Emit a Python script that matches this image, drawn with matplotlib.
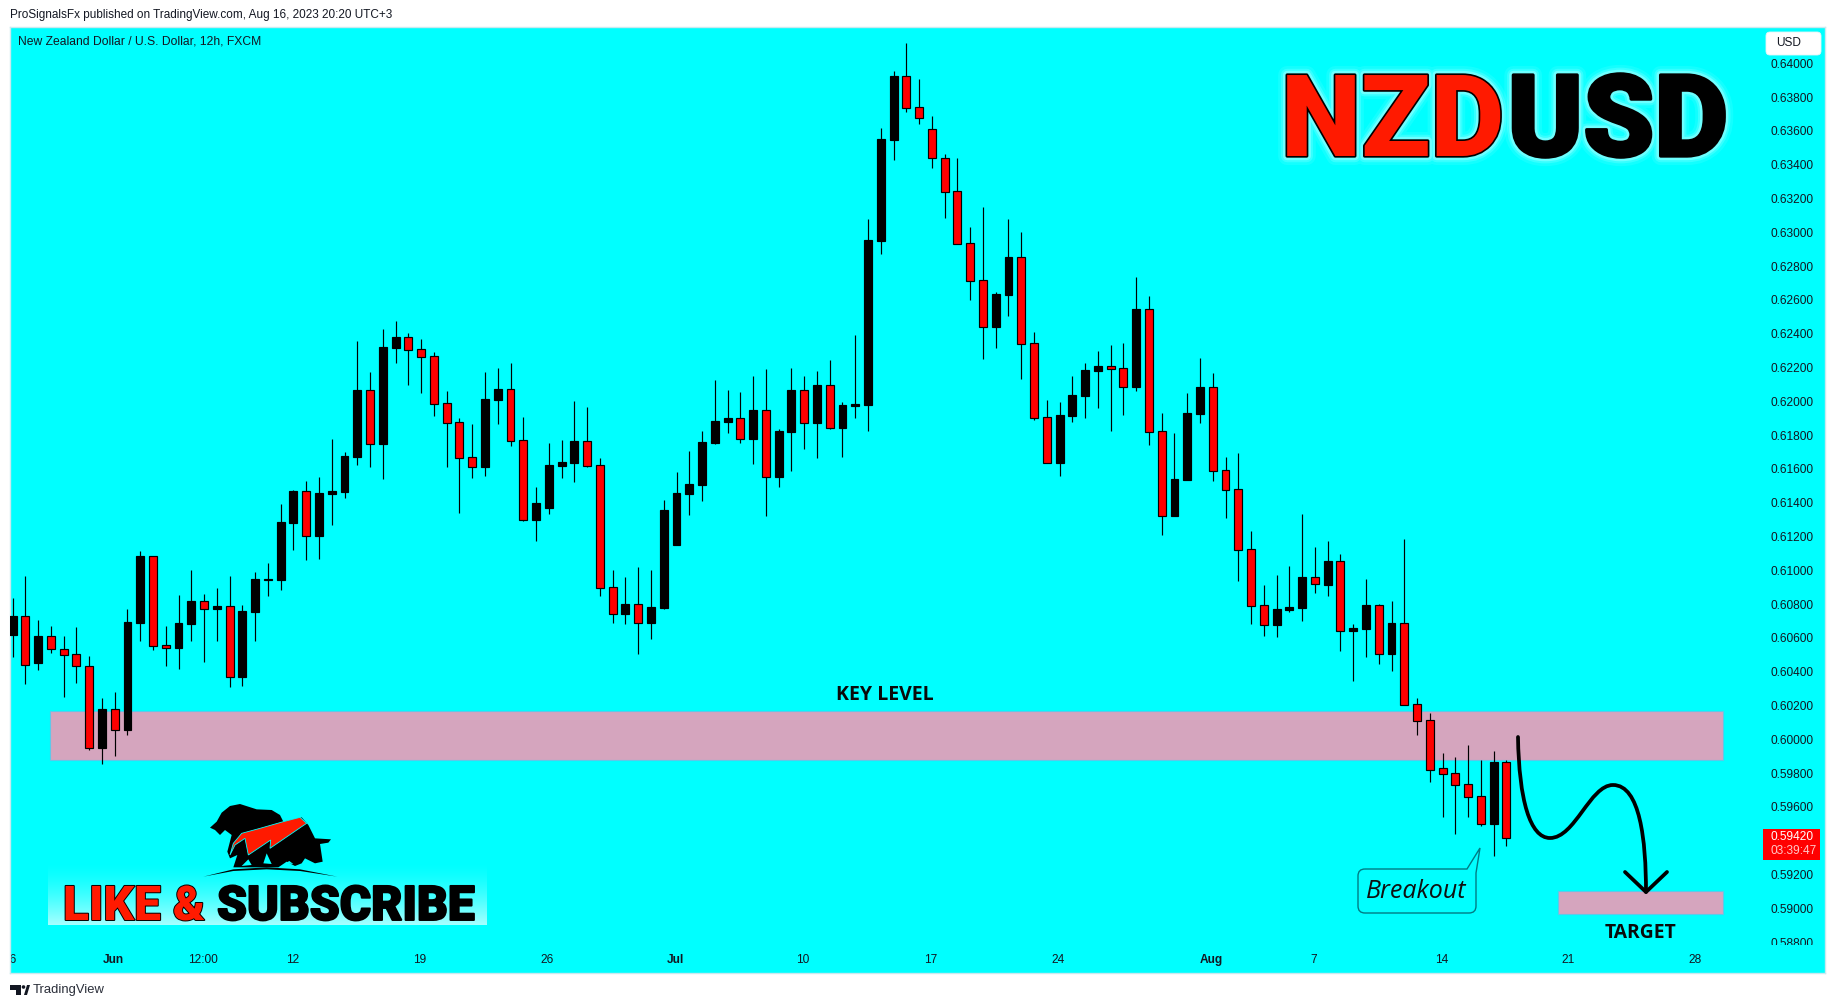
import matplotlib
matplotlib.use("Agg")
import matplotlib.pyplot as plt
import matplotlib.patheffects as pe
import numpy as np
from matplotlib.patches import PathPatch, Polygon, Rectangle, FancyBboxPatch
from matplotlib.path import Path
from matplotlib.transforms import Affine2D, Bbox

# candle values (12h bars, NZDUSD)
opens = [0.60619, 0.60728, 0.60453, 0.60609, 0.60532, 0.60503, 0.60432, 0.59951, 0.60177, 0.60057,
         0.60690, 0.61083, 0.60556, 0.60542, 0.60684, 0.60816, 0.60773, 0.60787, 0.60371, 0.60755,
         0.60945, 0.60945, 0.61282, 0.61467, 0.61205, 0.61453, 0.61465, 0.61672, 0.62065, 0.61749,
         0.62317, 0.62378, 0.62307, 0.62266, 0.61988, 0.61875, 0.61668, 0.61613, 0.62009, 0.62071,
         0.61769, 0.61299, 0.61370, 0.61619, 0.61637, 0.61763, 0.61621, 0.60899, 0.60743, 0.60799,
         0.60690, 0.60779, 0.61152, 0.61453, 0.61507, 0.61755, 0.61879, 0.61899, 0.61779, 0.61946,
         0.61554, 0.61820, 0.62065, 0.61873, 0.62094, 0.61844, 0.61974, 0.61980, 0.62951, 0.63548,
         0.63923, 0.63740, 0.63609, 0.63438, 0.63243, 0.62935, 0.62716, 0.62442, 0.62629, 0.62852,
         0.62343, 0.61906, 0.61637, 0.61915, 0.62034, 0.62182, 0.62207, 0.62195, 0.62087, 0.62544,
         0.61822, 0.61323, 0.61536, 0.61927, 0.62083, 0.61592, 0.61479, 0.61124, 0.60793, 0.60679,
         0.60767, 0.60779, 0.60959, 0.60915, 0.61053, 0.60643, 0.60655, 0.60793, 0.60507, 0.60687,
         0.60207, 0.60112, 0.59828, 0.59799, 0.59734, 0.59663, 0.59501, 0.59864]
highs = [0.60836, 0.60966, 0.60706, 0.60670, 0.60611, 0.60664, 0.60493, 0.60244, 0.60280, 0.60771,
         0.61114, 0.61083, 0.60670, 0.60854, 0.61002, 0.60860, 0.60895, 0.60966, 0.60795, 0.60990,
         0.61043, 0.61392, 0.61475, 0.61528, 0.61552, 0.61777, 0.61700, 0.62356, 0.62173, 0.62427,
         0.62475, 0.62404, 0.62368, 0.62291, 0.62061, 0.61901, 0.61865, 0.62173, 0.62197, 0.62226,
         0.61907, 0.61493, 0.61753, 0.61771, 0.62001, 0.61966, 0.61664, 0.61002, 0.60960, 0.61019,
         0.61002, 0.61416, 0.61581, 0.61706, 0.61824, 0.62126, 0.62067, 0.62055, 0.62149, 0.62191,
         0.61836, 0.62197, 0.62149, 0.62179, 0.62244, 0.61996, 0.62392, 0.63079, 0.63617, 0.63954,
         0.64120, 0.63907, 0.63688, 0.63463, 0.63440, 0.63032, 0.63150, 0.62647, 0.63079, 0.63002,
         0.62410, 0.62008, 0.61996, 0.62150, 0.62227, 0.62298, 0.62333, 0.62345, 0.62736, 0.62623,
         0.61931, 0.61813, 0.62049, 0.62256, 0.62167, 0.61671, 0.61694, 0.61233, 0.60913, 0.60972,
         0.61026, 0.61333, 0.61138, 0.61174, 0.61097, 0.60683, 0.60949, 0.60801, 0.60819, 0.61185,
         0.60243, 0.60156, 0.59919, 0.59895, 0.59966, 0.59878, 0.59931, 0.59878]
lows = [0.60489, 0.60329, 0.60412, 0.60513, 0.60252, 0.60335, 0.59939, 0.59856, 0.59903, 0.60028,
        0.60584, 0.60530, 0.60436, 0.60418, 0.60584, 0.60459, 0.60584, 0.60311, 0.60317, 0.60584,
        0.60850, 0.60885, 0.61122, 0.61063, 0.61069, 0.61270, 0.61430, 0.61625, 0.61613, 0.61542,
        0.62228, 0.62098, 0.62051, 0.61915, 0.61613, 0.61341, 0.61548, 0.61560, 0.61867, 0.61737,
        0.61294, 0.61175, 0.61335, 0.61548, 0.61524, 0.61613, 0.60850, 0.60690, 0.60684, 0.60507,
        0.60595, 0.60773, 0.61152, 0.61329, 0.61412, 0.61749, 0.61814, 0.61755, 0.61631, 0.61323,
        0.61495, 0.61589, 0.61719, 0.61666, 0.61838, 0.61672, 0.61903, 0.61827, 0.62874, 0.63430,
        0.63714, 0.63643, 0.63383, 0.63087, 0.62933, 0.62602, 0.62253, 0.62318, 0.62507, 0.62134,
        0.61892, 0.61637, 0.61560, 0.61880, 0.61904, 0.61963, 0.61827, 0.61921, 0.62063, 0.61744,
        0.61211, 0.61323, 0.61536, 0.61874, 0.61531, 0.61312, 0.60939, 0.60685, 0.60614, 0.60608,
        0.60756, 0.60702, 0.60868, 0.60850, 0.60525, 0.60347, 0.60489, 0.60448, 0.60407, 0.60205,
        0.60028, 0.59750, 0.59542, 0.59442, 0.59542, 0.59489, 0.59312, 0.59371]
closes = [0.60730, 0.60442, 0.60611, 0.60532, 0.60501, 0.60432, 0.59951, 0.60177, 0.60057, 0.60694,
          0.61085, 0.60554, 0.60542, 0.60688, 0.60818, 0.60773, 0.60789, 0.60371, 0.60759, 0.60948,
          0.60948, 0.61286, 0.61469, 0.61205, 0.61457, 0.61469, 0.61676, 0.62067, 0.61749, 0.62321,
          0.62380, 0.62305, 0.62264, 0.61986, 0.61873, 0.61666, 0.61613, 0.62013, 0.62072, 0.61767,
          0.61299, 0.61398, 0.61623, 0.61641, 0.61765, 0.61619, 0.60897, 0.60743, 0.60801, 0.60690,
          0.60783, 0.61357, 0.61457, 0.61510, 0.61759, 0.61883, 0.61901, 0.61779, 0.61948, 0.61554,
          0.61824, 0.62067, 0.61873, 0.62096, 0.61844, 0.61978, 0.61984, 0.62955, 0.63552, 0.63925,
          0.63738, 0.63678, 0.63438, 0.63241, 0.62933, 0.62714, 0.62442, 0.62635, 0.62854, 0.62341,
          0.61904, 0.61637, 0.61919, 0.62038, 0.62186, 0.62209, 0.62193, 0.62087, 0.62546, 0.61821,
          0.61323, 0.61540, 0.61931, 0.62085, 0.61590, 0.61477, 0.61122, 0.60791, 0.60679, 0.60771,
          0.60783, 0.60961, 0.60917, 0.61055, 0.60643, 0.60659, 0.60795, 0.60507, 0.60689, 0.60205,
          0.60110, 0.59817, 0.59797, 0.59732, 0.59661, 0.59501, 0.59866, 0.59418]

price_ticks = [0.58800, 0.59000, 0.59200, 0.59400, 0.59600, 0.59800, 0.60000, 0.60200, 0.60400,
               0.60600, 0.60800, 0.61000, 0.61200, 0.61400, 0.61600, 0.61800, 0.62000, 0.62200,
               0.62400, 0.62600, 0.62800, 0.63000, 0.63200, 0.63400, 0.63600, 0.63800, 0.64000]
hidden_price = 0.59400  # sits behind the last price tag
date_ticks = [-0.2, 7.9, 14.9, 21.9, 31.9, 41.9, 51.9, 61.9, 71.9, 81.9, 93.9, 101.9, 111.9, 121.8, 131.8]
date_labels = ["26", "Jun", "12:00", "12", "19", "26", "Jul", "10", "17", "24", "Aug", "7", "14", "21", "28"]

key_level = (0.59876, 0.60168)
target_zone = (0.58964, 0.59100)
zone_bars = (2.95, 134.0)
target_start = 121.0

last_price = "0.59420"
countdown = "03:39:47"

W, H = 1835, 1008
CYAN = "#00ffff"
TEXT = "#131722"
ZONE = "#d5a5be"
ZONE_EDGE = "#5fc8e8"
RED = "#ff0000"
LOGO_RED = "#ff1a00"
FONT = "Liberation Sans"

fig = plt.figure(figsize=(W / 100, H / 100), dpi=100, facecolor="white")
ax = fig.add_axes([10 / W, 1 - 973 / H, (1825 - 10) / W, (973 - 27) / H], facecolor=CYAN)
ax.set_xlim(-0.18, 141.95)
ax.set_ylim(0.58617, 0.64215)

# image pixel coordinates for the drawn-on annotations, y pointing down
px = Affine2D().scale(1 / W, -1 / H).translate(0, 1) + fig.transFigure

for spine in ax.spines.values():
    spine.set_color("#c9e9ef")
    spine.set_linewidth(1)

# zones
ax.add_patch(Rectangle((zone_bars[0], key_level[0]), zone_bars[1] - zone_bars[0], key_level[1] - key_level[0],
                       facecolor=ZONE, edgecolor=ZONE_EDGE, linewidth=0.8, zorder=1))
ax.add_patch(Rectangle((target_start, target_zone[0]), zone_bars[1] - target_start, target_zone[1] - target_zone[0],
                       facecolor=ZONE, edgecolor=ZONE_EDGE, linewidth=0.8, zorder=1))

# candles
idx = np.arange(len(opens))
o = np.array(opens)
c = np.array(closes)
colors = ["black" if c[i] >= o[i] else RED for i in idx]
ax.vlines(idx, lows, highs, color="black", linewidth=0.85, zorder=2)
ax.bar(idx, np.abs(c - o), bottom=np.minimum(o, c), width=0.62, color=colors,
       edgecolor="black", linewidth=0.85, zorder=3)

# axes labels live inside the panel, like on TradingView
ax.yaxis.tick_right()
ax.set_yticks(price_ticks)
ax.set_yticklabels(["%.5f" % p for p in price_ticks], fontfamily=FONT, fontsize=8.6, color=TEXT)
ax.tick_params(axis="y", length=0, pad=-39.1)
ax.set_xticks(date_ticks)
ax.set_xticklabels(date_labels, fontfamily=FONT, fontsize=8.6, color=TEXT)
ax.tick_params(axis="x", length=0, pad=-14)
for lab in ax.get_xticklabels():
    if lab.get_text() in ("Jun", "Jul", "Aug"):
        lab.set_fontweight("bold")
ax.get_xticklabels()[0].set_clip_on(True)
ax.get_xticklabels()[0].set_clip_box(Bbox([[10, 0], [W, H]]))
ax.get_yticklabels()[0].set_clip_on(True)
ax.get_yticklabels()[0].set_clip_box(Bbox([[0, H - 945], [W, H]]))
ax.get_yticklabels()[price_ticks.index(hidden_price)].set_visible(False)

# header and footer
fig.text(10 / W, 1 - 15 / H, "ProSignalsFx published on TradingView.com, Aug 16, 2023 20:20 UTC+3",
         fontfamily=FONT, fontsize=8.46, color=TEXT, va="center")
fig.text(18 / W, 1 - 42 / H, "New Zealand Dollar / U.S. Dollar, 12h, FXCM",
         fontfamily=FONT, fontsize=8.7, color=TEXT, va="center")
fig.text(33 / W, 1 - 990 / H, "TradingView", fontfamily=FONT, fontsize=9.4, color="#2a2e39", va="center")
tv_t = [(10, 985), (21, 985), (21, 995), (16, 995), (16, 990), (10, 990)]
tv_v = [(24, 995), (27, 985), (30, 985), (27, 995)]
for pts in (tv_t, tv_v):
    fig.add_artist(Polygon(pts, closed=True, facecolor="#131722", edgecolor="none", transform=px))
fig.add_artist(plt.Circle((23.5, 987), 1.8, facecolor="#131722", edgecolor="none", transform=px))

# USD box and last price tag
fig.add_artist(FancyBboxPatch((1766, 32), 55, 23, boxstyle="round,pad=0,rounding_size=4",
                              facecolor="white", edgecolor="#e6f4f6", linewidth=0.6, transform=px))
fig.text(1776 / W, 1 - 43.5 / H, "USD", fontfamily=FONT, fontsize=8.6, color=TEXT, va="center")
fig.add_artist(Rectangle((1763, 829), 57, 31, facecolor=RED, edgecolor="none", transform=px))
fig.text(1770.7 / W, 1 - 837.5 / H, last_price, fontfamily=FONT, fontsize=8.6, color="white", va="center")
fig.text(1770.7 / W, 1 - 851.5 / H, countdown, fontfamily=FONT, fontsize=8.6, color="#ffc8c8", va="center")

# zone captions
fig.text(885 / W, 1 - 695.5 / H, "KEY LEVEL", fontfamily="Open Sans", fontweight="bold", fontsize=14,
         color="#0a0a0a", ha="center", va="center")
fig.text(1640 / W, 1 - 933 / H, "TARGET", fontfamily="Open Sans", fontweight="bold", fontsize=13.9,
         color="#0a0a0a", ha="center", va="center")

# drawn projection: dip, bounce, drop to target
curve = Path([(1518, 737), (1519, 800), (1530, 838), (1550, 838),
              (1575, 838), (1590, 785), (1613, 785),
              (1640, 785), (1646, 840), (1646, 892)],
             [Path.MOVETO] + [Path.CURVE4] * 9)
fig.add_artist(PathPatch(curve, facecolor="none", edgecolor="black", linewidth=2.7, capstyle="round", transform=px))
head = Path([(1625, 872), (1646, 892), (1667, 872)], [Path.MOVETO, Path.LINETO, Path.LINETO])
fig.add_artist(PathPatch(head, facecolor="none", edgecolor="black", linewidth=2.7, capstyle="round",
                         joinstyle="round", transform=px))

# Breakout callout
r = 7
box = Path([(1358 + r, 869), (1467, 869), (1480, 848), (1476, 873), (1476, 913 - r), (1476, 913), (1476 - r, 913),
            (1358 + r, 913), (1358, 913), (1358, 913 - r), (1358, 869 + r), (1358, 869), (1358 + r, 869)],
           [Path.MOVETO, Path.LINETO, Path.LINETO, Path.LINETO, Path.LINETO, Path.CURVE3, Path.CURVE3,
            Path.LINETO, Path.CURVE3, Path.CURVE3, Path.LINETO, Path.CURVE3, Path.CURVE3])
fig.add_artist(PathPatch(box, facecolor=CYAN, edgecolor="#007c84", linewidth=1, transform=px))
fig.text(1416 / W, 1 - 892 / H, "Breakout", fontfamily="Open Sans", fontstyle="italic", fontsize=18,
         color="#101010", ha="center", va="center")

# NZDUSD title with a soft white glow
glow = [pe.withStroke(linewidth=w, foreground="white", alpha=a) for w, a in ((13, 0.08), (9, 0.15), (6, 0.28))]
fig.text(1281 / W, 1 - 156 / H, "NZD", fontfamily="Roboto", fontweight=900, fontsize=82, color=LOGO_RED, va="baseline",
         path_effects=glow + [pe.withStroke(linewidth=2.4, foreground="black")])
fig.text(1507.5 / W, 1 - 156 / H, "USD", fontfamily="Roboto", fontweight=900, fontsize=82, color="black", va="baseline",
         path_effects=glow + [pe.withStroke(linewidth=2.4, foreground="black")])

# LIKE & SUBSCRIBE logo
gax = fig.add_axes([48 / W, 1 - 925 / H, (486 - 48) / W, (925 - 863) / H])
ramp = np.linspace(0, 1, 64)[:, None]
rgb = np.dstack([0.65 * ramp ** 1.5, np.ones_like(ramp), np.ones_like(ramp)])
gax.imshow(rgb, aspect="auto", origin="upper")
gax.axis("off")
fig.text(63 / W, 1 - 920 / H, "LIKE &", fontfamily="Roboto", fontweight=900, fontsize=34.5, color=LOGO_RED, va="baseline",
         path_effects=[pe.withStroke(linewidth=1.4, foreground="black")])
fig.text(217 / W, 1 - 920 / H, "SUBSCRIBE", fontfamily="Roboto", fontweight=900, fontsize=34.5, color="black", va="baseline",
         path_effects=[pe.withStroke(linewidth=1.4, foreground="black")])


def logo(points):
    # outline points were taken from a 3x crop starting at y=780
    return [(x / 3, 780 + y / 3) for x, y in points]


animals = [(630, 143), (650, 125), (665, 98), (690, 78), (720, 72), (770, 88), (815, 90), (840, 105), (850, 125),
           (905, 112), (925, 135), (945, 175), (993, 178), (985, 188), (960, 192), (968, 245), (945, 250), (915, 235),
           (905, 250), (885, 258), (860, 245), (835, 262), (700, 262), (712, 225), (690, 235), (682, 215), (695, 165),
           (675, 150), (660, 165), (645, 150)]
gaps = [[(725, 258), (755, 255), (745, 238)], [(790, 250), (815, 252), (800, 220)], [(855, 250), (880, 252), (868, 243)]]
arrow = [(690, 225), (700, 190), (725, 160), (780, 145), (850, 125), (900, 112), (920, 130), (905, 140), (810, 205),
         (812, 180), (745, 225), (735, 175), (705, 195)]
ground = [(610, 290), (700, 268), (800, 262), (900, 268), (1012, 290), (900, 273), (800, 268), (700, 273)]
fig.add_artist(Polygon(logo(animals), closed=True, facecolor="black", edgecolor="none", transform=px))
for g in gaps:
    fig.add_artist(Polygon(logo(g), closed=True, facecolor=CYAN, edgecolor="none", transform=px))
fig.add_artist(Polygon(logo(arrow), closed=True, facecolor=LOGO_RED, edgecolor=CYAN, linewidth=0.6, transform=px))
fig.add_artist(Polygon(logo(ground), closed=True, facecolor="black", edgecolor="none", transform=px))

fig.savefig("out.png", dpi=100)
